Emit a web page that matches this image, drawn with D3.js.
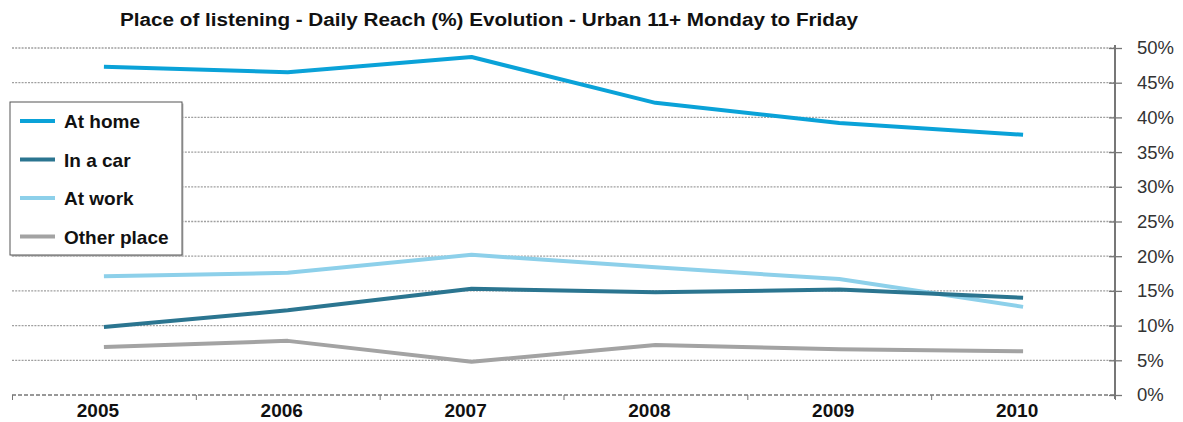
<!DOCTYPE html>
<html>
<head>
<meta charset="utf-8">
<script src="https://cdn.jsdelivr.net/npm/d3@7"></script>
<style>
    body { margin: 0; background: #fff; }
    svg { display: block; font-family: "Liberation Sans", Arial, sans-serif; }
</style>
</head>
<body>
<svg id="chart" width="1183" height="422"></svg>
<script>
// --- Data ---
const years = ["2005", "2006", "2007", "2008", "2009", "2010"];
const seriesNames = ["At home", "In a car", "At work", "Other place"];
const atHome = [47.3, 46.5, 48.7, 42.1, 39.2, 37.5];
const inCar = [9.8, 12.2, 15.3, 14.8, 15.2, 14.0];
const atWork = [17.1, 17.6, 20.2, 18.4, 16.7, 12.7];
const otherPlace = [6.9, 7.8, 4.8, 7.2, 6.6, 6.3];
const yTicks = [0, 5, 10, 15, 20, 25, 30, 35, 40, 45, 50];
const titleText = "Place of listening - Daily Reach (%) Evolution - Urban 11+ Monday to Friday";

const colors = ["#0aa2d8", "#2b7590", "#8dd0ea", "#a3a3a3"];
const series = [atHome, inCar, atWork, otherPlace].map((values, i) => ({
    name: seriesNames[i],
    color: colors[i],
    values: values.map((v, j) => ({ year: years[j], value: v }))
}));

// --- Setup ---
const plot = { left: 12, right: 1115, top: 48, bottom: 395 };
const svg = d3.select("#chart");

// --- Scales ---
const x = d3.scaleBand().domain(years).range([plot.left, plot.right]).padding(0);
const xEdges = d3.scaleLinear().domain([0, years.length]).range([plot.left, plot.right]);
const y = d3.scaleLinear().domain([0, 50]).range([plot.bottom, plot.top]);

// Title
svg.append("text")
    .attr("x", 489)
    .attr("y", 26)
    .attr("text-anchor", "middle")
    .style("font-size", "17.5px")
    .style("font-weight", "bold")
    .style("fill", "#111")
    .attr("textLength", 738)
    .attr("lengthAdjust", "spacingAndGlyphs")
    .text(titleText);

// Grid lines (dotted)
svg.append("g")
    .selectAll("line")
    .data(yTicks.filter(d => d > 0))
    .join("line")
    .attr("x1", plot.left)
    .attr("x2", plot.right)
    .attr("y1", d => y(d))
    .attr("y2", d => y(d))
    .attr("stroke", "#a0a0a0")
    .attr("stroke-width", 1.3)
    .attr("stroke-dasharray", "2 1.2");

// X axis: dashed baseline, ticks at category edges
svg.append("line")
    .attr("x1", plot.left).attr("x2", plot.right)
    .attr("y1", plot.bottom).attr("y2", plot.bottom)
    .attr("stroke", "#777")
    .attr("stroke-width", 1.3)
    .attr("stroke-dasharray", "4 2");

svg.append("g")
    .attr("transform", `translate(0,${plot.bottom})`)
    .call(d3.axisBottom(xEdges).ticks(years.length).tickSize(5).tickFormat(""))
    .call(g => g.select(".domain").remove())
    .selectAll("line")
    .attr("stroke", "#777");

svg.append("g")
    .attr("transform", `translate(0,${plot.bottom})`)
    .call(d3.axisBottom(x).tickSize(0).tickPadding(9))
    .call(g => g.select(".domain").remove())
    .selectAll("text")
    .attr("dx", -6)
    .style("font-family", "'Liberation Sans', Arial, sans-serif")
    .style("font-size", "19px")
    .style("font-weight", "bold")
    .style("fill", "#111");

// Y axis on the right
const yAxis = svg.append("g")
    .attr("transform", `translate(${plot.right},0)`)
    .call(d3.axisRight(y).tickValues(yTicks).tickSize(7).tickPadding(15).tickFormat(d => d + "%"));
yAxis.select(".domain").remove();
yAxis.selectAll("line").attr("x1", -6).attr("stroke", "#777").attr("stroke-width", 1.3);
yAxis.selectAll("text")
    .style("font-family", "'Liberation Sans', Arial, sans-serif")
    .style("font-size", "18.5px")
    .style("fill", "#333");
svg.append("line")
    .attr("x1", plot.right).attr("x2", plot.right)
    .attr("y1", plot.top - 3).attr("y2", plot.bottom + 4)
    .attr("stroke", "#777")
    .attr("stroke-width", 2);

// --- Lines ---
const line = d3.line()
    .x(d => x(d.year) + x.bandwidth() / 2)
    .y(d => y(d.value));

svg.append("g")
    .selectAll("path")
    .data(series.slice().reverse())
    .join("path")
    .attr("d", d => line(d.values))
    .attr("fill", "none")
    .attr("stroke", d => d.color)
    .attr("stroke-width", 4)
    .attr("stroke-linejoin", "round");

// --- Legend ---
const legend = svg.append("g").attr("transform", "translate(10,102)");
legend.append("rect")
    .attr("x", 1.5).attr("y", 1.5)
    .attr("width", 172).attr("height", 153)
    .attr("fill", "#bbb");
legend.append("rect")
    .attr("width", 172).attr("height", 153)
    .attr("fill", "#fff")
    .attr("stroke", "#555")
    .attr("stroke-width", 1);

legend.selectAll(".legend-item")
    .data(series)
    .join("g")
    .attr("class", "legend-item")
    .attr("transform", (d, i) => `translate(0, ${19 + i * 38.5})`)
    .call(g => {
        g.append("line")
            .attr("x1", 10).attr("x2", 45)
            .attr("stroke", d => d.color)
            .attr("stroke-width", 4);
        g.append("text")
            .attr("x", 54)
            .attr("y", 7)
            .text(d => d.name)
            .style("font-size", "19px")
            .style("font-weight", "bold")
            .style("fill", "#111");
    });
</script>
</body>
</html>
